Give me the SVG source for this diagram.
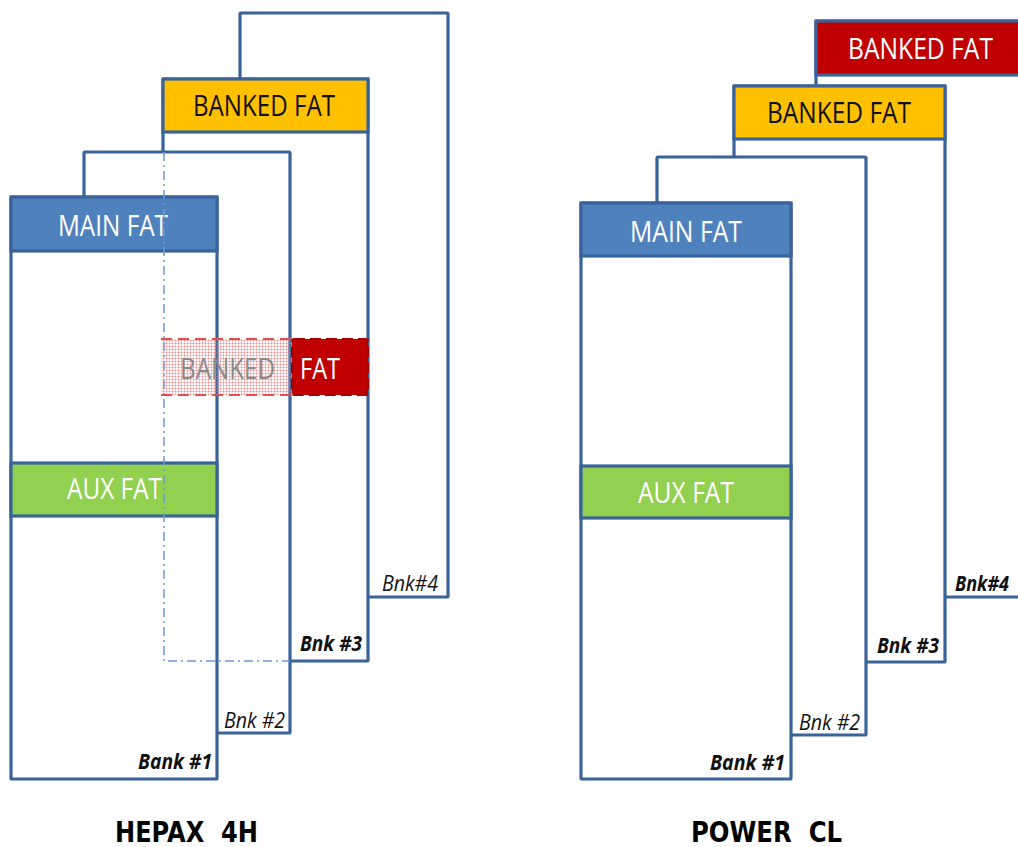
<svg xmlns="http://www.w3.org/2000/svg" width="1018" height="847" viewBox="0 0 1018 847">
<style>
.bank{fill:#fff;stroke:#3A6399;stroke-width:3.2}
.main{fill:#4F81BD;stroke:#3A6399;stroke-width:3.2}
.aux{fill:#92D050;stroke:#3A6399;stroke-width:3.2}
.yel{fill:#FFC000;stroke:#3A6399;stroke-width:3.2}
.red{fill:#C00000;stroke:#3A6399;stroke-width:3.2}
.hdr{font-family:"Open Sans","Noto Sans",sans-serif;font-size:29px}
.w{fill:#fff}
.k{fill:#111}
.lbl{font-family:"Open Sans","Noto Sans",sans-serif;font-size:21px;font-style:italic;fill:#111}
.b{font-weight:bold}
.title{font-family:"DejaVu Sans",sans-serif;font-weight:bold;font-size:28px;fill:#000;white-space:pre}
.dd{fill:none;stroke:#6A9AD6;stroke-width:1.5;stroke-dasharray:9 4 2 4}
</style>
<defs>
<pattern id="dots" width="3" height="3" patternUnits="userSpaceOnUse">
<circle cx="1.5" cy="1.5" r="0.95" fill="#E87070"/>
</pattern>
</defs>
<g id="hepax">
<g id="h-bank4">
<rect class="bank" x="240" y="13" width="208" height="584" rx="1"/>
<text class="lbl" x="382" y="591" textLength="56" lengthAdjust="spacingAndGlyphs">Bnk#4</text>
</g>
<g id="h-bank3">
<rect class="bank" x="163" y="79" width="205" height="582" rx="1"/>
<rect class="yel" x="163" y="79" width="205" height="53"/>
<text class="hdr k" x="193" y="116" textLength="142" lengthAdjust="spacingAndGlyphs">BANKED FAT</text>
<text class="lbl b" x="300" y="651" textLength="62" lengthAdjust="spacingAndGlyphs">Bnk #3</text>
</g>
<g id="h-bank2">
<rect class="bank" x="84" y="152" width="206" height="581" rx="1"/>
<text class="lbl" x="224" y="728" textLength="61" lengthAdjust="spacingAndGlyphs">Bnk #2</text>
</g>
<g id="h-bank1">
<rect class="bank" x="11" y="197" width="206" height="582" rx="1"/>
<rect class="main" x="11" y="197" width="206" height="54"/>
<text class="hdr w" x="58" y="236" textLength="110" lengthAdjust="spacingAndGlyphs">MAIN FAT</text>
<rect class="aux" x="11" y="463" width="206" height="53"/>
<text class="hdr w" x="67" y="499" textLength="95" lengthAdjust="spacingAndGlyphs">AUX FAT</text>
<text class="lbl b" x="138" y="769" textLength="74" lengthAdjust="spacingAndGlyphs">Bank #1</text>
</g>
<g id="h-hidden">
<path class="dd" d="M164 152 V661 H290"/>
</g>
<g id="h-banked-moved">
<rect x="161" y="339" width="131" height="56" fill="url(#dots)" opacity="0.85"/>
<path d="M161 339 H292 M161 395 H292" stroke="#E05050" stroke-width="2" stroke-dasharray="11 6" fill="none"/>
<text class="hdr" x="180" y="379" fill="#8A8A8A" textLength="95" lengthAdjust="spacingAndGlyphs">BANKED</text>
<rect x="292" y="339" width="76" height="56" fill="#C00000" stroke="#A00000" stroke-width="2" stroke-dasharray="11 5" rx="2"/>
<text class="hdr w" x="300" y="379" textLength="40" lengthAdjust="spacingAndGlyphs">FAT</text>
</g>
<text id="t-hepax" class="title" x="115" y="842" textLength="143" lengthAdjust="spacingAndGlyphs">HEPAX  4H</text>
</g>
<g id="powercl">
<g id="p-bank4">
<rect class="bank" x="816" y="21" width="220" height="576" rx="1"/>
<rect class="red" x="816" y="21" width="220" height="54"/>
<text class="hdr w" x="848" y="59" textLength="145" lengthAdjust="spacingAndGlyphs">BANKED FAT</text>
<text class="lbl b" x="955" y="591" textLength="54" lengthAdjust="spacingAndGlyphs">Bnk#4</text>
</g>
<g id="p-bank3">
<rect class="bank" x="734" y="86" width="211" height="576" rx="1"/>
<rect class="yel" x="734" y="86" width="211" height="53"/>
<text class="hdr k" x="767" y="123" textLength="144" lengthAdjust="spacingAndGlyphs">BANKED FAT</text>
<text class="lbl b" x="877" y="653" textLength="62" lengthAdjust="spacingAndGlyphs">Bnk #3</text>
</g>
<g id="p-bank2">
<rect class="bank" x="657" y="157" width="209" height="578" rx="1"/>
<text class="lbl" x="799" y="730" textLength="61" lengthAdjust="spacingAndGlyphs">Bnk #2</text>
</g>
<g id="p-bank1">
<rect class="bank" x="581" y="203" width="210" height="576" rx="1"/>
<rect class="main" x="581" y="203" width="210" height="53"/>
<text class="hdr w" x="630" y="242" textLength="112" lengthAdjust="spacingAndGlyphs">MAIN FAT</text>
<rect class="aux" x="581" y="466" width="210" height="52"/>
<text class="hdr w" x="638" y="503" textLength="96" lengthAdjust="spacingAndGlyphs">AUX FAT</text>
<text class="lbl b" x="710" y="770" textLength="75" lengthAdjust="spacingAndGlyphs">Bank #1</text>
</g>
<text id="t-power" class="title" x="691" y="842" textLength="151" lengthAdjust="spacingAndGlyphs">POWER  CL</text>
</g>
<g id="connectors"/>
</svg>
